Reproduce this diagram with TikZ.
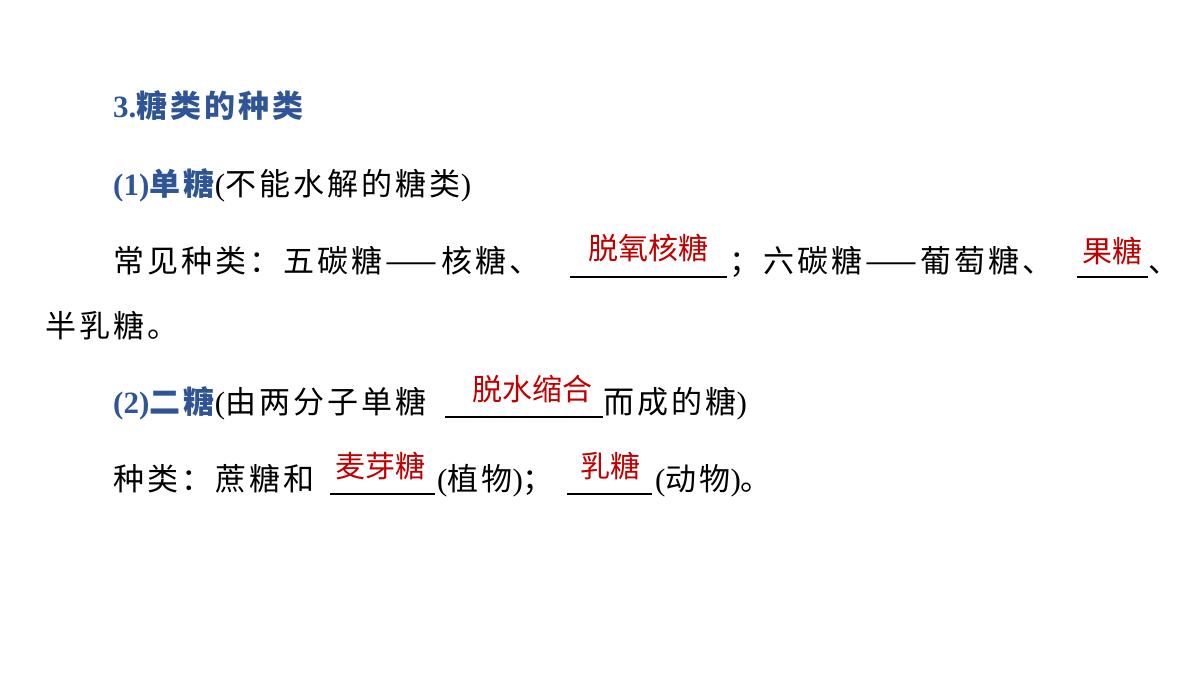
\documentclass[tikz,border=0pt]{standalone}
\usepackage{fontspec}
\setmainfont{Noto Sans CJK SC}[LetterSpace=10]
\newfontfamily\redf{Noto Sans CJK SC}
\newfontfamily\rom{Liberation Serif}
\definecolor{tblue}{RGB}{47,85,151}
\definecolor{tred}{RGB}{192,0,0}
\newcommand{\R}[1]{{\rom\fontsize{31}{31}\selectfont #1}}
\tikzset{t/.style={anchor=base west,inner sep=0,font=\fontsize{31}{32}\selectfont},
 b/.style={t,text=tblue,font=\fontsize{31}{32}\selectfont\bfseries},
 r/.style={anchor=base,inner sep=0,text=tred,font=\redf\fontsize{30}{30}\selectfont},
 ul/.style={line width=1.5pt}}
\begin{document}
\begin{tikzpicture}[x=1pt,y=1pt]
\useasboundingbox (0,0) rectangle (1200,-675);
\fill[white] (0,0) rectangle (1200,-675);
\node[b] (h) at (113,-117) {\R{\bfseries 3.}糖类的种类};
\node[b] (a1) at (113,-195) {\R{\bfseries (1)}单糖};
\node[t] (a2) at (a1.base east) {\R{(}不能水解的糖类\R{)}};
\node[t] (c1) at (113,-272) {常见种类：五碳糖——核糖、};
\coordinate (u1a) at (570,-277); \coordinate (u1b) at (727,-277);
\draw[ul] (u1a) -- (u1b);
\node[r] (r1) at (648,-259) {脱氧核糖};
\node[t] (c2) at (729,-272) {；六碳糖——葡萄糖、};
\coordinate (u2a) at (1077,-277); \coordinate (u2b) at (1148,-277);
\draw[ul] (u2a) -- (u2b);
\node[r] (r2) at (1112,-262) {果糖};
\node[t] (c3) at (1148,-272) {、};
\node[t] (d) at (45,-337) {半乳糖。};
\node[b] (e1) at (113,-413) {\R{\bfseries (2)}二糖};
\node[t] (e2) at (e1.base east) {\R{(}由两分子单糖};
\coordinate (u3a) at (445,-417); \coordinate (u3b) at (603,-417);
\draw[ul] (u3a) -- (u3b);
\node[r] (r3) at (532,-400) {脱水缩合};
\node[t] (e3) at (603,-413) {而成的糖\R{)}};
\node[t] (f1) at (113,-490) {种类：蔗糖和};
\coordinate (u4a) at (330,-494); \coordinate (u4b) at (435,-494);
\draw[ul] (u4a) -- (u4b);
\node[r] (r4) at (380,-477) {麦芽糖};
\node[t] (f2) at (437,-490) {\R{(}植物\R{)}；};
\coordinate (u5a) at (567,-494); \coordinate (u5b) at (652,-494);
\draw[ul] (u5a) -- (u5b);
\node[r] (r5) at (610,-477) {乳糖};
\node[t] (f3) at (655,-490) {\R{(}动物\R{)}。};
\end{tikzpicture}
\end{document}
